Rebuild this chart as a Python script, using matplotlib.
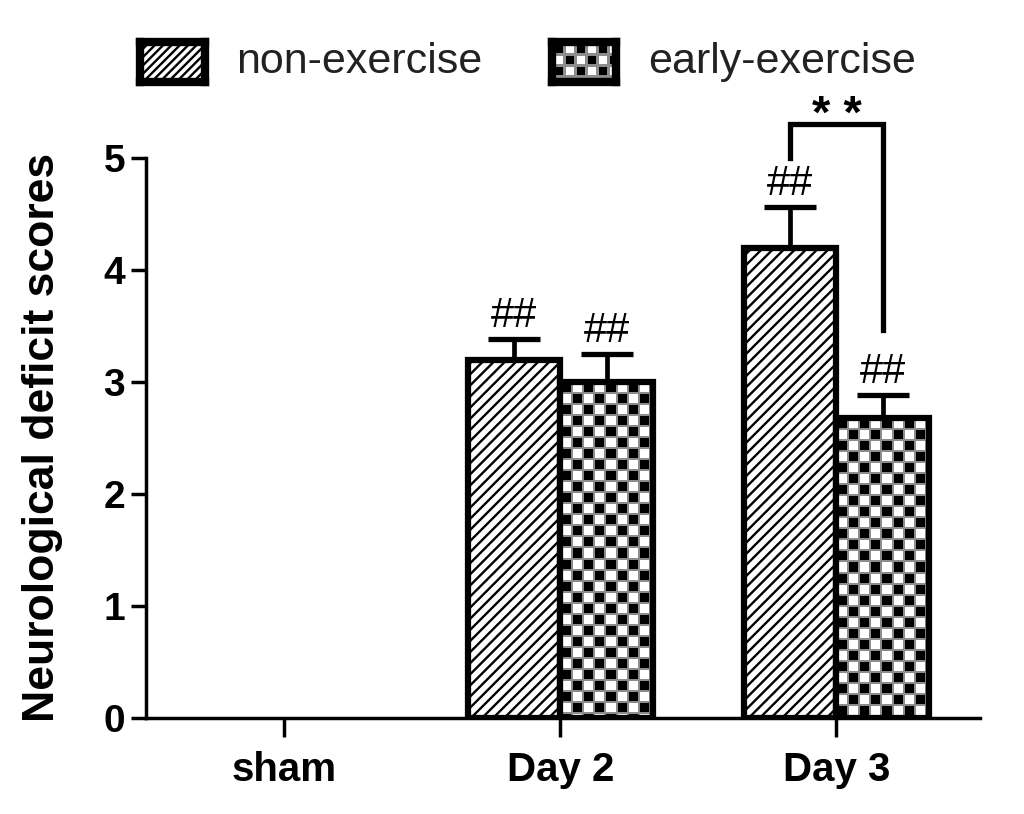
import numpy as np
import matplotlib.pyplot as plt
from matplotlib.patches import Rectangle

plt.rcParams['font.family'] = ['Liberation Sans', 'DejaVu Sans']
plt.rcParams['hatch.linewidth'] = 1.7

# data
groups = ['sham', 'Day 2', 'Day 3']
non_exercise = [0.0, 3.2, 4.2]
non_err = [0.0, 0.18, 0.36]
early_exercise = [0.0, 3.0, 2.68]
early_err = [0.0, 0.25, 0.2]
series_labels = ['non-exercise', 'early-exercise']
sig_mark = '##'
bracket_label = '* *'
bracket_top = 5.3
bracket_left_end = 5.0
bracket_right_end = 3.46


def checker(w_px, h_px, cell=11, line=2):
    # checkerboard fill with grey grid lines
    yy, xx = np.mgrid[0:h_px, 0:w_px]
    img = np.where((xx // cell + yy // cell) % 2 == 0, 0.0, 1.0)
    grid = ((xx % cell) < line) | ((yy % cell) < line)
    img[grid] = 0.55
    return img


fig = plt.figure(figsize=(10.24, 8.14), dpi=100)
ax = fig.add_axes([0.1426, 0.118, 0.8145, 0.688])
x = np.arange(len(groups))
w = 0.335
ax.set_xlim(-0.5, 2.52)
ax.set_ylim(0, 5)

for i in range(len(groups)):
    # non-exercise, hatched
    if non_exercise[i] > 0:
        ax.bar(x[i] - w/2, non_exercise[i], w, facecolor='white', edgecolor='black',
               hatch='///', linewidth=4.5, zorder=3)
        ax.errorbar(x[i] - w/2, non_exercise[i], yerr=[[0], [non_err[i]]], fmt='none',
                    ecolor='black', elinewidth=3.4, capsize=19, capthick=3.8, zorder=2)
        ax.text(x[i] - w/2, non_exercise[i] + non_err[i] + 0.03, sig_mark, ha='center',
                va='bottom', fontsize=30, zorder=5)
    # early-exercise, checkerboard
    if early_exercise[i] > 0:
        b = ax.bar(x[i] + w/2, early_exercise[i], w, facecolor='white', edgecolor='none', zorder=3)
        p = b[0]
        p0 = ax.transData.transform((x[i], 0))
        p1 = ax.transData.transform((x[i] + w, early_exercise[i]))
        im = ax.imshow(checker(int(abs(p1[0]-p0[0])), int(abs(p1[1]-p0[1]))), cmap='gray',
                       vmin=0, vmax=1, extent=(x[i], x[i] + w, 0, early_exercise[i]),
                       aspect='auto', interpolation='nearest', zorder=3.5)
        im.set_clip_path(p)
        ax.bar(x[i] + w/2, early_exercise[i], w, facecolor='none', edgecolor='black',
               linewidth=4.5, zorder=4)
        ax.errorbar(x[i] + w/2, early_exercise[i], yerr=[[0], [early_err[i]]], fmt='none',
                    ecolor='black', elinewidth=3.4, capsize=19, capthick=3.8, zorder=2)
        ax.text(x[i] + w/2, early_exercise[i] + early_err[i] + 0.03, sig_mark, ha='center',
                va='bottom', fontsize=30, zorder=5)

ax.set_xlim(-0.5, 2.52)
ax.set_ylim(0, 5)

# significance bracket on Day 3
xl, xr = x[2] - w/2, x[2] + w/2
ax.plot([xl, xl, xr, xr], [bracket_left_end, bracket_top, bracket_top, bracket_right_end],
        color='black', linewidth=3.8, clip_on=False, solid_joinstyle='miter')
ax.text((xl + xr)/2, bracket_top - 0.12, bracket_label, ha='center', va='bottom',
        fontsize=34, fontweight='bold', clip_on=False)

for s in ['top', 'right']:
    ax.spines[s].set_visible(False)
for s in ['left', 'bottom']:
    ax.spines[s].set_linewidth(2.5)

ax.set_yticks(range(6))
ax.set_yticklabels([str(v) for v in range(6)], fontsize=28, fontweight='bold')
ax.set_xticks(x)
ax.set_xticklabels(groups, fontsize=29, fontweight='bold')
ax.tick_params(axis='y', length=11, width=2.5, pad=4)
ax.tick_params(axis='x', length=14, width=2.5, pad=10)
ax.set_ylabel('Neurological deficit scores', fontsize=32, fontweight='bold')
ax.yaxis.set_label_coords(-0.10, 0.5)

# legend drawn by hand
def swatch(rect, kind):
    sa = fig.add_axes(rect)
    sa.set_xticks([])
    sa.set_yticks([])
    for s in sa.spines.values():
        s.set_linewidth(6)
    if kind == 'hatch':
        sa.add_patch(Rectangle((0, 0), 1, 1, facecolor='white', edgecolor='black',
                               linewidth=0, hatch='////', transform=sa.transAxes))
    else:
        sa.imshow(checker(65, 40, cell=11, line=3), cmap='gray', vmin=0, vmax=1,
                  extent=(0, 1, 0, 1), aspect='auto', interpolation='nearest')
    sa.set_xlim(0, 1)
    sa.set_ylim(0, 1)

swatch([0.137, 0.899, 0.063, 0.049], 'hatch')
swatch([0.539, 0.899, 0.063, 0.049], 'checker')
fig.text(0.231, 0.924, series_labels[0], va='center', fontsize=31, color='#222222')
fig.text(0.633, 0.924, series_labels[1], va='center', fontsize=31, color='#222222')

fig.savefig('out.png', dpi=100)
